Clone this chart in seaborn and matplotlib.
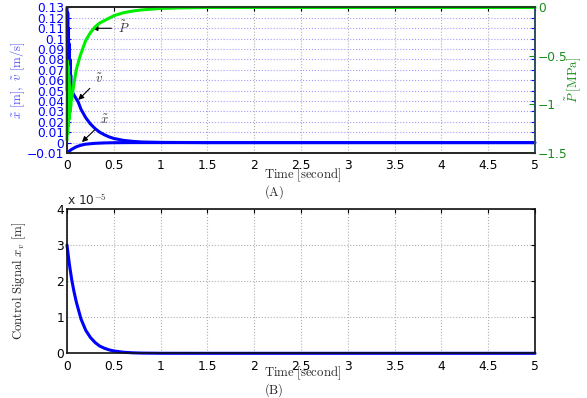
import matplotlib
matplotlib.use("Agg")
import matplotlib.pyplot as plt
import seaborn as sns
import pandas as pd
from matplotlib.ticker import FuncFormatter

# ---------------- data ----------------
t_v = [0, 0.004, 0.008, 0.012, 0.016, 0.02, 0.024, 0.028, 0.032, 0.036, 0.04, 0.045,
       0.05, 0.06, 0.08, 0.1, 0.12, 0.15, 0.2, 0.25, 0.3, 0.35, 0.4, 0.45, 0.5, 0.6,
       0.7, 0.8, 1.0, 1.5, 2, 3, 4, 5]
v_err = [0.13, 0.05, 0.125, 0.06, 0.11, 0.05, 0.095, 0.045, 0.08, 0.042, 0.065, 0.044,
         0.052, 0.048, 0.045, 0.042, 0.039, 0.032, 0.024, 0.018, 0.0135, 0.010, 0.0075,
         0.0055, 0.004, 0.0022, 0.0012, 0.0006, 0.0002, 0, 0, 0, 0, 0]

t_x = [0, 0.02, 0.05, 0.1, 0.15, 0.2, 0.3, 0.4, 0.5, 0.7, 1, 2, 3, 4, 5]
x_err = [-0.01, -0.0085, -0.0065, -0.004, -0.0025, -0.0015, -0.0007, -0.0003,
         -0.0001, 0, 0, 0, 0, 0, 0]

t_p = [0, 0.004, 0.008, 0.012, 0.016, 0.02, 0.024, 0.028, 0.032, 0.036, 0.04, 0.045,
       0.05, 0.06, 0.08, 0.1, 0.14, 0.2, 0.25, 0.3, 0.35, 0.4, 0.5, 0.6, 0.7, 0.8,
       1.0, 1.2, 1.5, 2, 3, 4, 5]
p_err = [-1.37, -0.55, -1.3, -0.6, -1.22, -0.7, -1.15, -0.8, -1.08, -0.88, -1.02, -0.92,
         -0.95, -0.88, -0.75, -0.64, -0.5, -0.34, -0.26, -0.2, -0.16, -0.135, -0.085,
         -0.055, -0.037, -0.025, -0.01, -0.004, 0, 0, 0, 0, 0]

t_u = [0, 0.025, 0.05, 0.075, 0.1, 0.15, 0.2, 0.25, 0.3, 0.35, 0.4, 0.45, 0.5, 0.6,
       0.7, 0.8, 1.0, 1.5, 2, 3, 4, 5]
u_ctrl = [3.0e-5, 2.48e-5, 2.05e-5, 1.71e-5, 1.42e-5, 0.95e-5, 0.64e-5, 0.44e-5,
          0.30e-5, 0.20e-5, 0.14e-5, 0.095e-5, 0.065e-5, 0.03e-5, 0.014e-5, 0.006e-5,
          0.001e-5, 0, 0, 0, 0, 0]

x_ticks = [0, 0.5, 1, 1.5, 2, 2.5, 3, 3.5, 4, 4.5, 5]
left_ticks = [-0.01, 0, 0.01, 0.02, 0.03, 0.04, 0.05, 0.06, 0.07, 0.08, 0.09, 0.1,
              0.11, 0.12, 0.13]
right_ticks = [0, -0.5, -1, -1.5]
ctrl_ticks = [0, 1e-5, 2e-5, 3e-5, 4e-5]

# ---------------- style ----------------
sns.set_style("white")
plt.rcParams["font.family"] = ["DejaVu Sans"]
plt.rcParams["mathtext.fontset"] = "cm"

BLUE = "#0000ff"
GREEN = "#00ee00"
DKGREEN = "#1a8c1a"
LBLUE = "#5050ff"
TICKFS = 8.8
LABFS = 9.2

fig = plt.figure(figsize=(5.87, 3.98), dpi=100)
ax1 = fig.add_axes([0.1141, 0.6156, 0.7973, 0.3656])
ax2 = ax1.twinx()
ax3 = fig.add_axes([0.1141, 0.1123, 0.7973, 0.3626])

df_v = pd.DataFrame({"t": t_v, "y": v_err})
df_x = pd.DataFrame({"t": t_x, "y": x_err})
df_p = pd.DataFrame({"t": t_p, "y": p_err})
df_u = pd.DataFrame({"t": t_u, "y": u_ctrl})

sns.lineplot(data=df_v, x="t", y="y", ax=ax1, color=BLUE, linewidth=2.2, clip_on=False)
sns.lineplot(data=df_x, x="t", y="y", ax=ax1, color=BLUE, linewidth=2.2)
sns.lineplot(data=df_p, x="t", y="y", ax=ax2, color=GREEN, linewidth=2.2, clip_on=False)
sns.lineplot(data=df_u, x="t", y="y", ax=ax3, color=BLUE, linewidth=2.2, clip_on=False)

# ---------------- top panel ----------------
ax1.set_xlim(0, 5)
ax1.set_ylim(-0.01, 0.13)
ax2.set_ylim(-1.5, 0)
ax1.set_xticks(x_ticks)
ax1.set_xticklabels([f"{v:g}" for v in x_ticks])
ax1.set_yticks(left_ticks)
ax1.set_yticklabels([f"{v:g}".replace("-", "\u2212") for v in left_ticks])
ax2.set_yticks(right_ticks)
ax2.set_yticklabels([f"{v:g}".replace("-", "\u2212") for v in right_ticks])

ax1.tick_params(axis="x", direction="in", length=3, labelsize=TICKFS, colors="black",
                top=True, pad=4)
ax1.tick_params(axis="y", direction="in", length=3, labelsize=TICKFS, colors=BLUE,
                left=True, right=True, labelright=False, pad=2)
ax2.tick_params(axis="y", direction="in", length=4, labelsize=TICKFS, colors=DKGREEN,
                pad=2)

ax1.grid(axis="x", color="#b0b0b0", linestyle=":", linewidth=0.8)
ax1.grid(axis="y", color="#a0a0ff", linestyle=":", linewidth=0.8)
ax1.set_axisbelow(True)

ax1.set_xlabel("")
ax1.set_ylabel(r"$\tilde{x}\ \mathrm{[m]},\ \tilde{v}\ \mathrm{[m/s]}$", color=LBLUE,
               fontsize=LABFS)
ax1.yaxis.set_label_coords(-0.086, 0.5)
ax2.set_xlabel("")
ax2.set_ylabel(r"$\tilde{P}\ \mathrm{[MPa]}$", color=DKGREEN, fontsize=LABFS)
ax2.yaxis.set_label_coords(1.06, 0.5)

for sp in ["top", "bottom"]:
    ax1.spines[sp].set_color("#111111")
ax1.spines["left"].set_color("#10105a")
ax2.spines["right"].set_color("#2a5570")
for a in (ax1, ax2):
    for sp in a.spines.values():
        sp.set_linewidth(1.2)

arrow_kw = dict(arrowstyle="-|>", color="black", lw=0.8, mutation_scale=8,
                shrinkA=2, shrinkB=0)
ax1.annotate(r"$\tilde{P}$", xy=(0.27, 0.110), xytext=(0.54, 0.110),
             fontsize=LABFS, color="#333333", va="center", arrowprops=arrow_kw)
ax1.annotate(r"$\tilde{v}$", xy=(0.12, 0.041), xytext=(0.30, 0.061),
             fontsize=LABFS, color="#333333", va="center", arrowprops=arrow_kw)
ax1.annotate(r"$\tilde{x}$", xy=(0.16, 0.0005), xytext=(0.35, 0.021),
             fontsize=LABFS, color="#333333", va="center", arrowprops=arrow_kw)

fig.text(0.449, 0.560, r"$\mathrm{Time\ [second]}$", fontsize=LABFS, ha="left",
         va="center")
fig.text(0.449, 0.518, r"$\mathrm{(A)}$", fontsize=LABFS, ha="left", va="center")

# ---------------- bottom panel ----------------
ax3.set_xlim(0, 5)
ax3.set_ylim(0, 4e-5)
ax3.set_xticks(x_ticks)
ax3.set_xticklabels([f"{v:g}" for v in x_ticks])
ax3.set_yticks(ctrl_ticks)
ax3.yaxis.set_major_formatter(FuncFormatter(lambda v, p: f"{v / 1e-5:g}"))
ax3.tick_params(axis="both", direction="in", length=3, labelsize=TICKFS,
                colors="black", top=True, right=True, pad=2)
ax3.tick_params(axis="x", pad=5)
ax3.grid(True, color="#b0b0b0", linestyle=":", linewidth=0.8)
ax3.set_axisbelow(True)
ax3.set_xlabel("")
ax3.set_ylabel(r"$\mathrm{Control\ Signal}\ x_v\ \mathrm{[m]}$", fontsize=LABFS)
ax3.yaxis.set_label_coords(-0.083, 0.5)
for sp in ax3.spines.values():
    sp.set_color("#111111")
    sp.set_linewidth(1.2)
ax3.text(0.0, 1.01, r"x 10$^{-5}$", transform=ax3.transAxes, fontsize=TICKFS,
         ha="left", va="bottom")

fig.text(0.449, 0.062, r"$\mathrm{Time\ [second]}$", fontsize=LABFS, ha="left",
         va="center")
fig.text(0.449, 0.020, r"$\mathrm{(B)}$", fontsize=LABFS, ha="left", va="center")

fig.savefig("out.png", dpi=100)
